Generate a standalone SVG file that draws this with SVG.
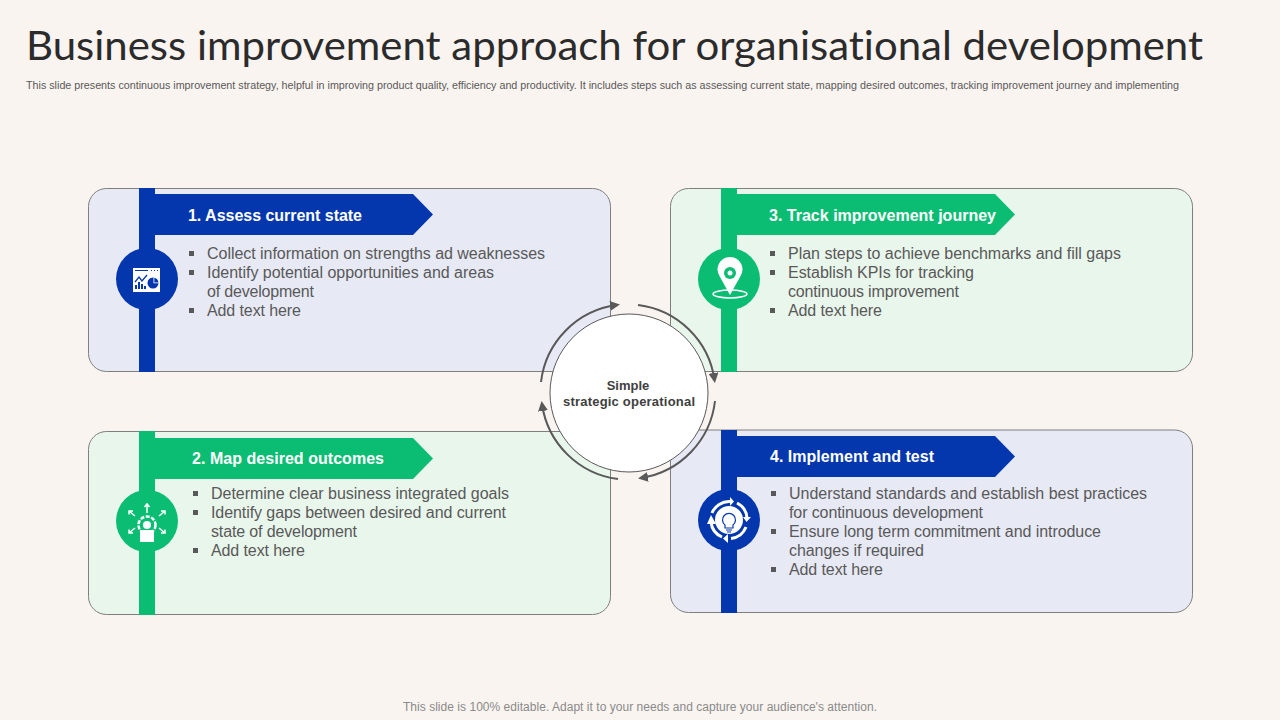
<svg xmlns="http://www.w3.org/2000/svg" width="1280" height="720" viewBox="0 0 1280 720">
<style>
text{font-family:"Liberation Sans",Arial,sans-serif}
.title{font-family:Lato,"Liberation Sans",sans-serif;font-size:41px;fill:#2b2b2b;font-variant-ligatures:none}
.sub{font-size:10px;fill:#595959}
.foot{font-size:12px;fill:#8a8a8a}
.card{stroke:#7f7f7f;stroke-width:1}
.cb{fill:#e7e9f5}.cg{fill:#e9f6ec}
.b{fill:#0437ad}.g{fill:#0bbd73}
.head{font-size:16px;font-weight:700;fill:#fff}
.body{font-size:16px;fill:#595959}
.bul{fill:#595959}
.w{fill:#fff}
.arc{fill:none;stroke:#595959;stroke-width:2;marker-end:url(#ah)}
.ct{font-size:13px;font-weight:700;fill:#404040;text-anchor:middle}
</style>
<defs>
<marker id="ah" viewBox="0 0 10 10" refX="7" refY="5" markerWidth="5" markerHeight="5" orient="auto"><path d="M0 0L10 5L0 10Z" fill="#595959"/></marker>
</defs>
<rect width="1280" height="720" fill="#f9f4f0"/>
<text class="title" x="26" y="60" textLength="1177" lengthAdjust="spacingAndGlyphs">Business improvement approach for organisational development</text>
<text class="sub" x="26" y="89" textLength="1153" lengthAdjust="spacingAndGlyphs">This slide presents continuous improvement strategy, helpful in improving product quality, efficiency and productivity. It includes steps such as assessing current state, mapping desired outcomes, tracking improvement journey and implementing</text>

<g id="node-1">
<rect class="card cb" x="88.5" y="188.5" width="522" height="183" rx="18"/>
<rect class="b" x="139" y="188" width="16" height="184"/>
<path class="b" d="M155 194H413L433 214.500L413 235H155Z"/>
<circle class="b" cx="147" cy="279" r="31"/>
<rect class="w" x="133" y="268" width="27" height="24"/>
<path d="M135 270.500H148M151 270.500H152M154 270.500H155M157 270.500H158" stroke="#0437ad" stroke-width="1"/>
<path d="M135 289V285H137V289ZM138 289V282H140V289ZM141 289V284H143V289ZM144 289V286H146V289Z" class="b"/>
<path d="M135 282L139 277L142 281L147 275" fill="none" stroke="#0437ad" stroke-width="1.300"/>
<circle class="b" cx="153" cy="283" r="5.500"/>
<path class="w" d="M153.500 282.500V277.500H154.300V282.500H159V283.300H153.500Z"/>
<text class="head" x="188" y="221" textLength="174" lengthAdjust="spacing">1. Assess current state</text>
<rect class="bul" x="189" y="251" width="5" height="5"/><rect class="bul" x="189" y="270" width="5" height="5"/><rect class="bul" x="189" y="308" width="5" height="5"/>
<text class="body" x="207" y="259" textLength="338" lengthAdjust="spacing">Collect information on strengths ad weaknesses</text>
<text class="body" x="207" y="278" textLength="287" lengthAdjust="spacing">Identify potential opportunities and areas</text>
<text class="body" x="207" y="297" textLength="107" lengthAdjust="spacing">of development</text>
<text class="body" x="207" y="316" textLength="94" lengthAdjust="spacing">Add text here</text>
</g>

<g id="node-3">
<rect class="card cg" x="670.500" y="188.5" width="522" height="183" rx="18"/>
<rect class="g" x="721" y="188" width="16" height="184"/>
<path class="g" d="M737 194H995L1015 214.500L995 235H737Z"/>
<circle class="g" cx="729" cy="279" r="31"/>
<path class="w" d="M730 295L720 277A12.500 12.500 0 1 1 740 277Z"/>
<circle class="g" cx="730" cy="273" r="6"/>
<circle class="w" cx="730" cy="273" r="2.500"/>
<ellipse cx="730" cy="294" rx="17" ry="4" fill="none" stroke="#fff" stroke-width="1.500"/>
<text class="head" x="769" y="221" textLength="227" lengthAdjust="spacing">3. Track improvement journey</text>
<rect class="bul" x="770" y="251" width="5" height="5"/><rect class="bul" x="770" y="270" width="5" height="5"/><rect class="bul" x="770" y="308" width="5" height="5"/>
<text class="body" x="788" y="259" textLength="333" lengthAdjust="spacing">Plan steps to achieve benchmarks and fill gaps</text>
<text class="body" x="788" y="278" textLength="186" lengthAdjust="spacing">Establish KPIs for tracking</text>
<text class="body" x="788" y="297" textLength="171" lengthAdjust="spacing">continuous improvement</text>
<text class="body" x="788" y="316" textLength="94" lengthAdjust="spacing">Add text here</text>
</g>

<g id="node-2">
<rect class="card cg" x="88.5" y="431.500" width="522" height="183" rx="18"/>
<rect class="g" x="139" y="431" width="16" height="184"/>
<path class="g" d="M155 438H413L433 458.500L413 479H155Z"/>
<circle class="g" cx="147" cy="521" r="31"/>
<circle cx="147" cy="525" r="8.500" fill="none" stroke="#fff" stroke-width="2.500" stroke-dasharray="4 1.500"/>
<circle class="w" cx="147" cy="525" r="4"/>
<rect class="w" x="140" y="530" width="14" height="12"/>
<g fill="none" stroke="#fff" stroke-width="1.500"><path d="M147 513V504M144.500 507L147 504L149.500 507"/><path d="M135 516L129 511M129 514.500V511H133"/><path d="M159 516L165 511M161 511H165V514.500"/><path d="M135 528L129 533M129 529.500V533H133"/><path d="M159 528L165 533M161 533H165V529.500"/></g>
<text class="head" x="192" y="464" textLength="192" lengthAdjust="spacing">2. Map desired outcomes</text>
<rect class="bul" x="193" y="491" width="5" height="5"/><rect class="bul" x="193" y="510" width="5" height="5"/><rect class="bul" x="193" y="548" width="5" height="5"/>
<text class="body" x="211" y="499" textLength="298" lengthAdjust="spacing">Determine clear business integrated goals</text>
<text class="body" x="211" y="518" textLength="295" lengthAdjust="spacing">Identify gaps between desired and current</text>
<text class="body" x="211" y="537" textLength="146" lengthAdjust="spacing">state of development</text>
<text class="body" x="211" y="556" textLength="94" lengthAdjust="spacing">Add text here</text>
</g>

<g id="node-4">
<rect class="card cb" x="670.500" y="430" width="522" height="182.500" rx="18"/>
<rect class="b" x="721" y="430" width="16" height="183"/>
<path class="b" d="M737 436H995L1015 456.500L995 477H737Z"/>
<circle class="b" cx="729" cy="520" r="31"/>
<circle class="w" cx="729" cy="520" r="14"/>
<g fill="none" stroke="#fff" stroke-width="3"><path d="M712 513A18.500 18.500 0 0 1 730 501.500"/><path d="M737 503A18.500 18.500 0 0 1 747 518"/><path d="M746 527A18.500 18.500 0 0 1 731 538.500"/><path d="M722 537A18.500 18.500 0 0 1 711 522"/></g>
<path class="w" d="M730 497L734 501.500L730 506ZM751 517L746.500 522L743 517ZM728 534V543L723 538.500ZM707 524L711 515L716 524Z"/>
<path d="M725 525A6.500 6.500 0 1 1 733 525V528H725ZM726 530H732M727 532H731" fill="none" stroke="#0437ad" stroke-width="1.200"/>
<text class="head" x="770" y="462" textLength="164" lengthAdjust="spacing">4. Implement and test</text>
<rect class="bul" x="771" y="491" width="5" height="5"/><rect class="bul" x="771" y="529" width="5" height="5"/><rect class="bul" x="771" y="567" width="5" height="5"/>
<text class="body" x="789" y="499" textLength="358" lengthAdjust="spacing">Understand standards and establish best practices</text>
<text class="body" x="789" y="518" textLength="194" lengthAdjust="spacing">for continuous development</text>
<text class="body" x="789" y="537" textLength="312" lengthAdjust="spacing">Ensure long term commitment and introduce</text>
<text class="body" x="789" y="556" textLength="135" lengthAdjust="spacing">changes if required</text>
<text class="body" x="789" y="575" textLength="94" lengthAdjust="spacing">Add text here</text>
</g>

<g id="connectors">
<path class="arc" d="M541 382A88 88 0 0 1 617 305"/>
<path class="arc" d="M638 305A88 88 0 0 1 714.500 380"/>
<path class="arc" d="M715 401A88 88 0 0 1 641 478"/>
<path class="arc" d="M618 479A88 88 0 0 1 542 404"/>
</g>

<g id="node-center">
<circle cx="629" cy="393" r="79" fill="#fff" stroke="#595959" stroke-width="1"/>
<text class="ct" x="628" y="390">Simple</text>
<text class="ct" x="629" y="406" textLength="132" lengthAdjust="spacing">strategic operational</text>
</g>

<text class="foot" x="403" y="711" textLength="474" lengthAdjust="spacing">This slide is 100% editable. Adapt it to your needs and capture your audience's attention.</text>
</svg>
